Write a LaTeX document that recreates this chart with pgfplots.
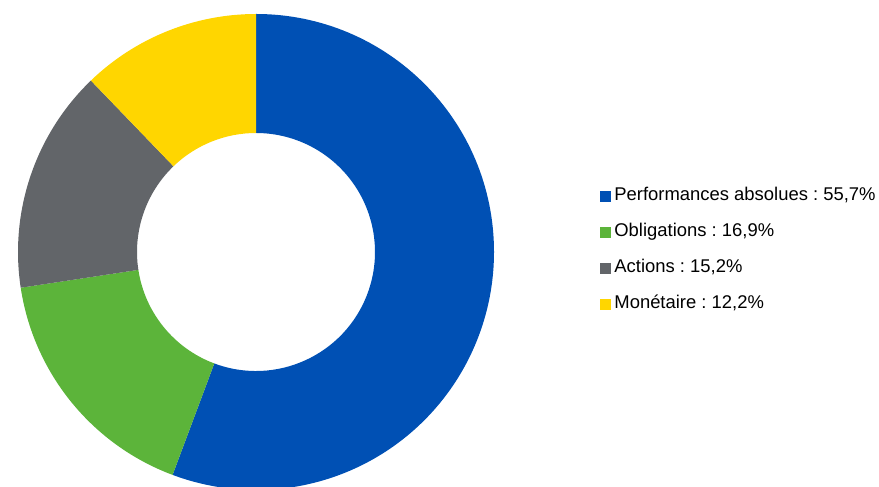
\documentclass[border=0pt]{standalone}
\usepackage{fontspec}
\setmainfont{Liberation Sans}
\usepackage{pgfplots}
\pgfplotsset{compat=1.18}
\usetikzlibrary{calc}
\frenchspacing

\definecolor{cblue}{HTML}{0050B4}
\definecolor{cgreen}{HTML}{5CB43A}
\definecolor{cgray}{HTML}{626569}
\definecolor{cyellow}{HTML}{FFD600}

% shares in percent
\def\vA{55.7} % Performances absolues
\def\vB{16.9} % Obligations
\def\vC{15.2} % Actions
\def\vD{12.2} % Monétaire

% segment boundaries, clockwise from the top
\pgfmathsetmacro\aA{90}
\pgfmathsetmacro\aB{\aA-3.6*\vA}
\pgfmathsetmacro\aC{\aB-3.6*\vB}
\pgfmathsetmacro\aD{\aC-3.6*\vC}
\pgfmathsetmacro\aE{\aD-3.6*\vD}

% ring segment: #1 start angle, #2 end angle, #3 colour
\newcommand\seg[3]{%
  \fill[#3] ($(axis cs:256,235)+(#1:238bp)$)
    arc[start angle=#1, end angle=#2, radius=238bp]
    -- ($(axis cs:256,235)+(#2:119bp)$)
    arc[start angle=#2, end angle=#1, radius=119bp] -- cycle;}

\begin{document}
\begin{tikzpicture}
\useasboundingbox (0,0) rectangle (879bp,487bp);
\begin{axis}[
    at={(0,0)}, anchor=south west,
    width=879bp, height=487bp, scale only axis,
    xmin=0, xmax=879, ymin=0, ymax=487,
    hide axis,
    legend cell align=left,
    legend image code/.code={\fill[#1] (0bp,-4.5bp) rectangle (9.5bp,5bp);},
    legend style={
        at={(600/879,236.5/487)}, anchor=west,
        draw=none, fill=none, inner sep=0pt, outer sep=0pt,
        row sep=19bp,
        font=\fontsize{18.5}{22}\selectfont,
        nodes={inner sep=0pt, text height=13bp, text depth=4bp},
        /tikz/every odd column/.append style={column sep=4.5bp},
    },
]
\seg{\aA}{\aB}{cblue}
\seg{\aB}{\aC}{cgreen}
\seg{\aC}{\aD}{cgray}
\seg{\aD}{\aE}{cyellow}

\addlegendimage{cblue}
\addlegendentry{Performances absolues : 55,7\%}
\addlegendimage{cgreen}
\addlegendentry{Obligations : 16,9\%}
\addlegendimage{cgray}
\addlegendentry{Actions : 15,2\%}
\addlegendimage{cyellow}
\addlegendentry{Monétaire : 12,2\%}
\end{axis}
\end{tikzpicture}
\end{document}
